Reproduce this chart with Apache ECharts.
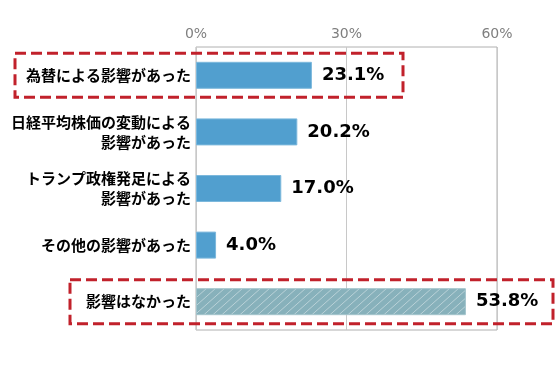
<!DOCTYPE html>
<html><head><meta charset="utf-8">
<script src="https://cdn.jsdelivr.net/npm/echarts@6/dist/echarts.min.js"></script>
<style>html,body{margin:0;padding:0;background:#fff}#c{width:560px;height:369px}</style>
</head><body><div id="c"></div>
<script>
const categories = ['為替による影響があった', '日経平均株価の変動による\n影響があった', 'トランプ政権発足による\n影響があった', 'その他の影響があった', '影響はなかった'];
const values = [23.1, 20.2, 17.0, 4.0, 53.8];
const axisTicks = [0, 30, 60];
const highlighted = [0, 4];

function hatch() {
  const w = 9, h = 8;
  const c = document.createElement('canvas');
  c.width = w; c.height = h;
  const g = c.getContext('2d');
  g.fillStyle = '#87b1bb';
  g.fillRect(0, 0, w, h);
  g.strokeStyle = 'rgba(255,255,255,0.42)';
  g.lineWidth = 1;
  g.beginPath();
  g.moveTo(-w, 2 * h); g.lineTo(2 * w, -h);
  g.moveTo(-2 * w, 2 * h); g.lineTo(w, -h);
  g.moveTo(0, 2 * h); g.lineTo(3 * w, -h);
  g.stroke();
  return c;
}
const pat = hatch();

const chart = echarts.init(document.getElementById('c'), null, {renderer: 'canvas'});
chart.setOption({
  animation: false,
  grid: {left: 196, right: 63, top: 47, bottom: 39, show: true, borderColor: '#b0b0b0', borderWidth: 1},
  xAxis: {
    type: 'value', position: 'top', min: axisTicks[0], max: axisTicks[axisTicks.length - 1], interval: 30,
    axisLine: {show: false}, axisTick: {show: false},
    axisLabel: {formatter: '{value}%', color: '#7f7f7f', fontSize: 14, fontFamily: 'DejaVu Sans', margin: 6},
    splitLine: {show: true, lineStyle: {color: '#c8c8c8', width: 1}}
  },
  yAxis: {
    type: 'category', inverse: true, data: categories,
    axisLine: {show: false}, axisTick: {show: false},
    axisLabel: {color: '#000', fontSize: 15, fontWeight: 'bold', fontFamily: 'Noto Sans CJK JP', lineHeight: 20, margin: 5, align: 'right'}
  },
  series: [{
    type: 'bar', barWidth: 27,
    data: values.map((v, i) => ({
      value: v,
      itemStyle: i === 4 ? {color: {image: pat, repeat: 'repeat'}, borderColor: '#a3c4cc', borderWidth: 1}
                         : {color: '#519fcf', borderColor: '#7cb8dc', borderWidth: 1}
    })),
    label: {show: true, position: 'right', distance: 10, color: '#000', fontSize: 18, fontWeight: 'bold',
      fontFamily: 'DejaVu Sans', formatter: p => p.value.toFixed(1) + '%'}
  }]
});

const boxX = [[15, 403], [70, 553]];
const graphics = highlighted.map((idx, k) => {
  const y = chart.convertToPixel({yAxisIndex: 0}, idx);
  return {
    type: 'rect', silent: true, z: 100,
    shape: {x: boxX[k][0], y: y - 22, width: boxX[k][1] - boxX[k][0], height: 44},
    style: {fill: 'none', stroke: '#c1212b', lineWidth: 3, lineDash: [11, 5]}
  };
});
chart.setOption({graphic: graphics});
</script></body></html>
